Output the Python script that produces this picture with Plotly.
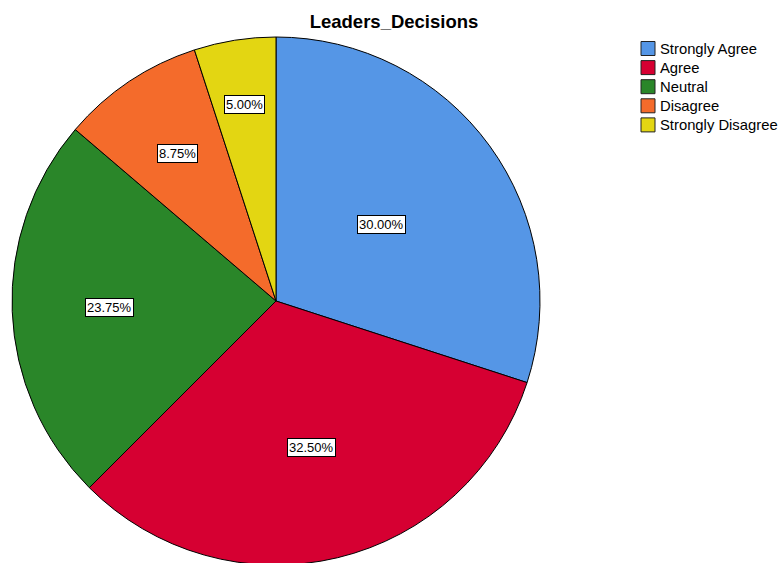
import math
import plotly.graph_objects as go

categories = ["Strongly Agree", "Agree", "Neutral", "Disagree", "Strongly Disagree"]
percents = [30.00, 32.50, 23.75, 8.75, 5.00]
label_texts = ["30.00%", "32.50%", "23.75%", "8.75%", "5.00%"]
colors = ["#5596E6", "#D60032", "#2A8629", "#F46B2B", "#E3D612"]
label_radius = [0.496, 0.571, 0.633, 0.672, 0.752]

# figure is slightly larger than the 779x563 window; the overflow is clipped
W, H = 800, 568
cx_px, cy_px, r_px = 276, 301, 264
dom_x = [(cx_px - r_px) / W, (cx_px + r_px) / W]
dom_y = [1 - (cy_px + r_px) / H, 1 - (cy_px - r_px) / H]

fig = go.Figure(go.Pie(
    labels=categories, values=percents, sort=False, direction="clockwise",
    rotation=0, textinfo="none", hoverinfo="label+percent",
    marker=dict(colors=colors, line=dict(color="#000000", width=1)),
    domain=dict(x=dom_x, y=dom_y), showlegend=False,
))

annotations = []
total = sum(percents)
cum = 0.0
for v, t, rf in zip(percents, label_texts, label_radius):
    mid = (cum + v / 2) / total * 2 * math.pi
    cum += v
    px = cx_px + rf * r_px * math.sin(mid)
    py = cy_px - rf * r_px * math.cos(mid)
    annotations.append(dict(
        x=px / W, y=1 - py / H, xref="paper", yref="paper", text=t,
        showarrow=False, font=dict(family="Arial, Liberation Sans", size=13, color="#000"),
        bgcolor="#FFFFFF", bordercolor="#000000", borderwidth=1, borderpad=1,
        xanchor="center", yanchor="middle",
    ))

# legend (square swatches + labels)
shapes = []
leg_x0, leg_size, leg_top, leg_step = 641, 14, 48.5, 19.1
for i, (cat, col) in enumerate(zip(categories, colors)):
    yc = leg_top + i * leg_step
    shapes.append(dict(type="rect", xref="paper", yref="paper",
                       x0=leg_x0 / W, x1=(leg_x0 + leg_size) / W,
                       y0=1 - (yc + leg_size / 2) / H, y1=1 - (yc - leg_size / 2) / H,
                       fillcolor=col, line=dict(color="#222222", width=1)))
    annotations.append(dict(
        x=(leg_x0 + leg_size + 3) / W, y=1 - yc / H, xref="paper", yref="paper",
        text=cat, showarrow=False, xanchor="left", yanchor="middle",
        font=dict(family="Arial, Liberation Sans", size=14.8, color="#000"),
    ))

fig.update_layout(
    width=W, height=H, margin=dict(l=0, r=0, t=0, b=0),
    paper_bgcolor="#FFFFFF", plot_bgcolor="#FFFFFF",
    title=dict(text="<b>Leaders_Decisions</b>", x=394 / W, xanchor="center",
               y=1 - 22 / H, yanchor="middle",
               font=dict(family="Arial, Liberation Sans", size=18.5, color="#000")),
    annotations=annotations,
    shapes=shapes,
    showlegend=False,
)

fig.write_html("out.html", config={"displayModeBar": False},
               post_script="document.body.style.margin='0';document.body.style.overflow='hidden';document.documentElement.style.overflow='hidden';")
